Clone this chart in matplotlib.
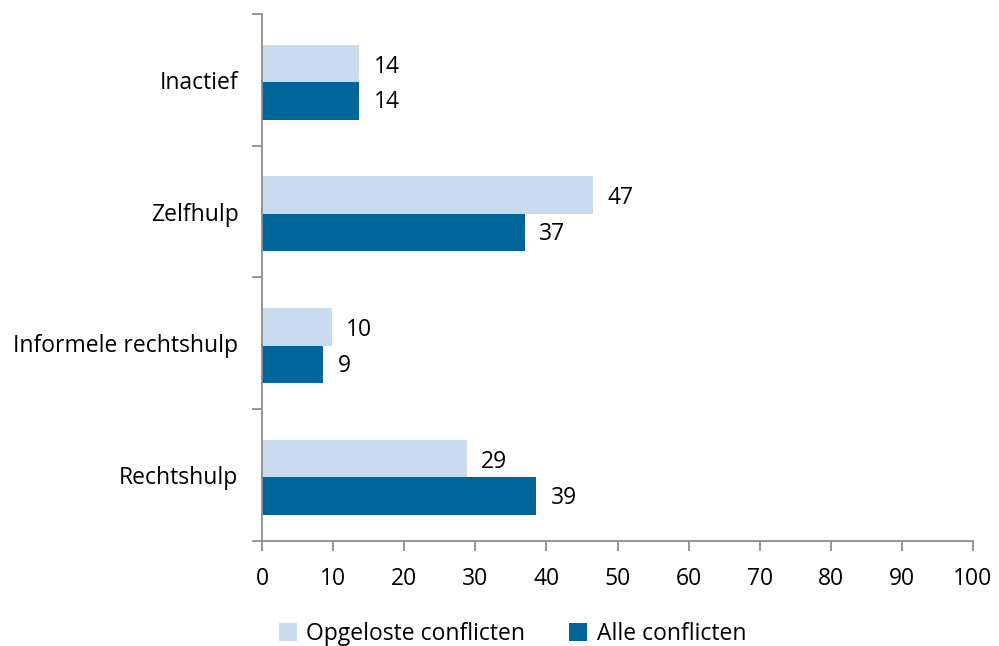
import matplotlib
matplotlib.use("Agg")
import matplotlib.pyplot as plt
import numpy as np

# data (bottom to top)
categories = ["Rechtshulp", "Informele rechtshulp", "Zelfhulp", "Inactief"]
opgelost = [28.8, 9.8, 46.6, 13.7]
alle = [38.6, 8.6, 37.0, 13.7]
series_names = ["Opgeloste conflicten", "Alle conflicten"]

light = "#CADBF0"
dark = "#00669A"
axis_col = "#8C8C8C"

plt.rcParams["font.family"] = ["Open Sans", "DejaVu Sans"]
fs = 16.5

fig = plt.figure(figsize=(9.99, 6.46), dpi=100)
ax = fig.add_axes([0.2623, 0.1625, 0.7117, 0.816])

y = np.arange(len(categories))
h = 0.285
ax.barh(y + 0.125, opgelost, height=h, color=light, label=series_names[0])
ax.barh(y - 0.16, alle, height=h, color=dark, label=series_names[1])

for yi, v in zip(y, opgelost):
    ax.text(v + 2.0, yi + 0.10, f"{round(v):d}", va="center", ha="left", fontsize=fs)
for yi, v in zip(y, alle):
    ax.text(v + 2.0, yi - 0.17, f"{round(v):d}", va="center", ha="left", fontsize=fs)

ax.set_xlim(0, 100)
ax.set_ylim(-0.5, len(categories) - 0.5)
ax.set_xticks(np.arange(0, 101, 10))
ax.tick_params(axis="x", labelsize=fs, length=7, color=axis_col, width=1.3, pad=12)

# category labels centered, ticks at boundaries
ax.set_yticks(np.arange(-0.5, len(categories), 1.0))
ax.set_yticklabels([])
ax.set_yticks(y, minor=True)
ax.set_yticklabels(categories, minor=True, fontsize=fs)
ax.tick_params(axis="y", which="major", length=7, color=axis_col, width=1.3)
ax.tick_params(axis="y", which="minor", length=0, pad=17)

for s in ["top", "right"]:
    ax.spines[s].set_visible(False)
for s in ["left", "bottom"]:
    ax.spines[s].set_color(axis_col)
    ax.spines[s].set_linewidth(1.3)

fig.legend(loc="lower center", bbox_to_anchor=(0.513, -0.032), ncol=2, frameon=False,
           fontsize=fs, handlelength=0.8, handleheight=0.8, handletextpad=0.4,
           columnspacing=1.9)

fig.savefig("out.png", dpi=100)
